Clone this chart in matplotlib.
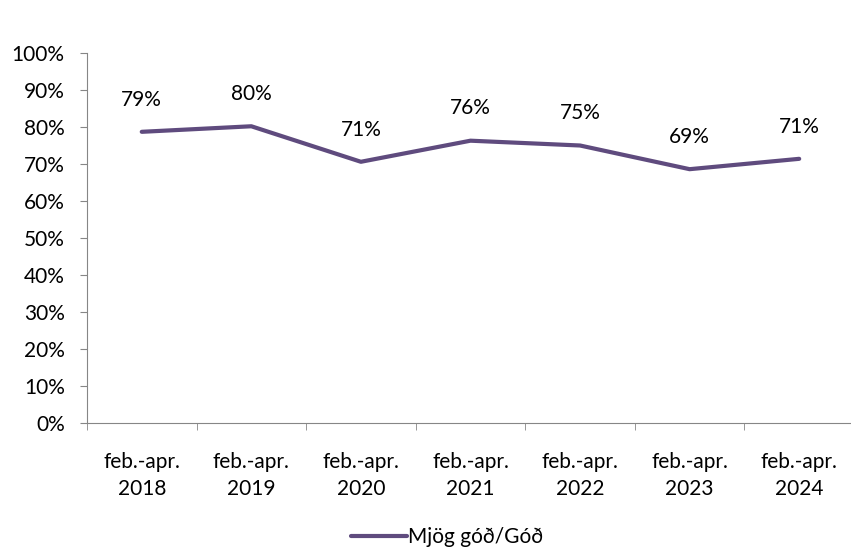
import matplotlib.pyplot as plt
import numpy as np

plt.rcParams['font.family'] = ['Lato', 'DejaVu Sans']

# Gögn
periods = ['feb.-apr.\n2018', 'feb.-apr.\n2019', 'feb.-apr.\n2020', 'feb.-apr.\n2021',
           'feb.-apr.\n2022', 'feb.-apr.\n2023', 'feb.-apr.\n2024']
values = [78.7, 80.2, 70.6, 76.3, 75.0, 68.6, 71.4]
labels = ['79%', '80%', '71%', '76%', '75%', '69%', '71%']
series_name = 'Mjög góð/Góð'

color = '#5F4B7E'
axis_color = '#868686'
fs = 15

fig = plt.figure(figsize=(8.51, 5.47), dpi=100)
ax = fig.add_axes([0.1022, 0.2267, 0.9013, 0.6764])

x = np.arange(len(values))
line, = ax.plot(x, values, color=color, lw=3, solid_capstyle='round', label=series_name)

for xi, v, lab in zip(x, values, labels):
    ax.annotate(lab, (xi, v), xytext=(0, 16), textcoords='offset points',
                ha='center', va='bottom', fontsize=fs)

ax.set_xlim(-0.5, len(values) - 0.5)
ax.set_ylim(0, 100)
ax.set_yticks(np.arange(0, 101, 10))
ax.set_yticklabels([f'{t}%' for t in range(0, 101, 10)], fontsize=fs)
ax.set_xticks(x)
ax.set_xticklabels(periods, fontsize=fs, linespacing=1.45)
ax.set_xticks(np.arange(-0.5, len(values), 1), minor=True)
ax.tick_params(axis='x', which='major', length=0, pad=21)
ax.tick_params(axis='x', which='minor', length=5, color=axis_color)
ax.tick_params(axis='y', length=5, color=axis_color, pad=11)

for s in ['top', 'right']:
    ax.spines[s].set_visible(False)
for s in ['left', 'bottom']:
    ax.spines[s].set_color(axis_color)

fig.legend(handles=[line], loc='center', bbox_to_anchor=(0.525, 0.018),
           frameon=False, fontsize=fs, handlelength=2.7, handletextpad=0.05)

fig.savefig('out.png', dpi=100)
